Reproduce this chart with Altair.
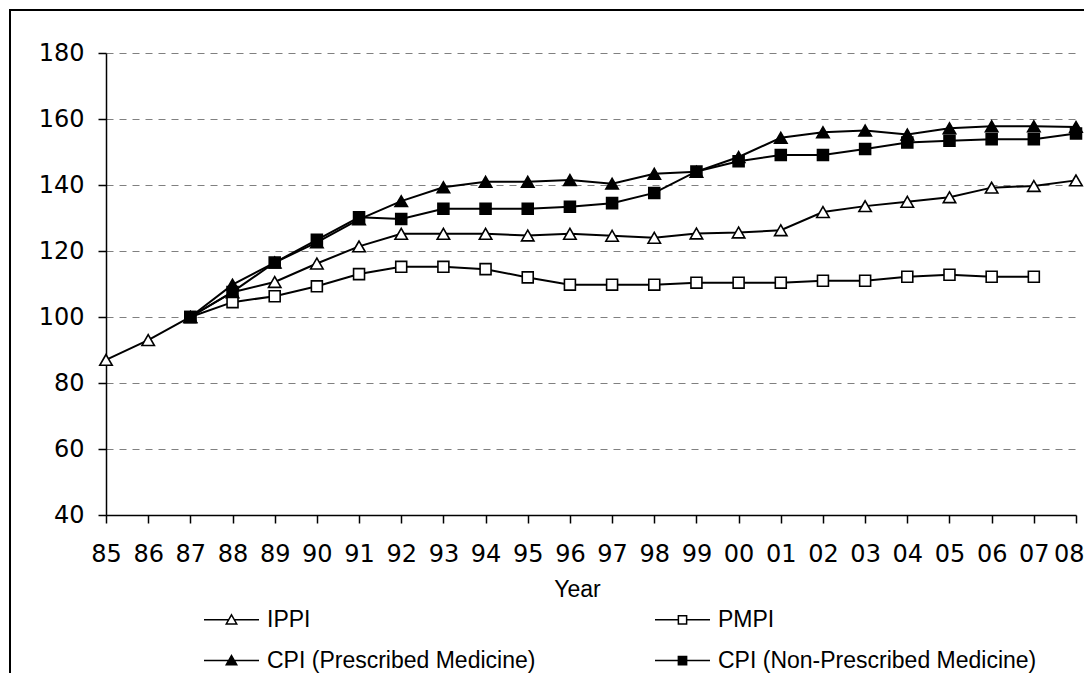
import altair as alt
import pandas as pd

years = ["85", "86", "87", "88", "89", "90", "91", "92", "93", "94", "95", "96",
         "97", "98", "99", "00", "01", "02", "03", "04", "05", "06", "07", "08"]

series = ["IPPI", "PMPI", "CPI (Prescribed Medicine)", "CPI (Non-Prescribed Medicine)"]

ippi = [87.0, 93.0, 100.0, 107.5, 110.6, 116.2, 121.4, 125.2, 125.2, 125.2, 124.7, 125.2,
        124.6, 124.0, 125.3, 125.6, 126.3, 131.8, 133.6, 134.9, 136.3, 139.2, 139.7, 141.4]
pmpi = [None, None, 100.0, 104.5, 106.3, 109.3, 113.0, 115.2, 115.2, 114.5, 112.0, 109.8,
        109.8, 109.8, 110.4, 110.4, 110.4, 111.0, 111.0, 112.2, 112.8, 112.2, 112.2, None]
cpi_p = [None, None, 100.0, 109.8, 116.5, 122.6, 129.6, 135.1, 139.3, 141.0, 141.0, 141.5,
         140.4, 143.4, 144.0, 148.5, 154.3, 156.0, 156.5, 155.3, 157.2, 157.8, 157.8, 157.6]
cpi_np = [None, None, 100.0, 107.6, 116.5, 123.4, 130.2, 129.7, 132.8, 132.8, 132.8, 133.4,
          134.5, 137.6, 144.1, 147.2, 149.1, 149.1, 150.9, 152.9, 153.4, 153.9, 153.9, 155.6]

shapes = ["triangle-up", "square", "triangle-up", "square"]
fills = ["white", "white", "black", "black"]
sizes = [155, 120, 155, 120]
legend_paths = [
    "M-1,0H-0.1M0.1,0H1M0,-0.18L0.19,0.15L-0.19,0.15Z",
    "M-1,0H-0.15M0.15,0H1M-0.15,-0.15H0.15V0.15H-0.15Z",
    "M-1,0H-0.1M0.1,0H1M0,-0.18L0.19,0.15L-0.19,0.15Z",
    "M-1,0H-0.15M0.15,0H1M-0.15,-0.15H0.15V0.15H-0.15Z",
]

rows = []
for name, vals in zip(series, [ippi, pmpi, cpi_p, cpi_np]):
    for i, (yr, v) in enumerate(zip(years, vals)):
        if v is not None:
            rows.append({"Year": yr, "Index": v, "Series": name, "idx": i})
df = pd.DataFrame(rows)

# keep the last tick label ("08") inside the page edge
last_label = "datum.value == '08'"

x_enc = alt.X(
    "Year:N",
    scale=alt.Scale(type="point", domain=years, padding=0),
    axis=alt.Axis(
        title="Year", labelAngle=0, labelFont="DejaVu Sans", labelFontSize=24,
        labelColor="black", labelPadding=19, tickSize=8, tickColor="black",
        tickWidth=1.5, domainColor="black", domainWidth=1.5,
        labelAlign={"condition": {"test": last_label, "value": "right"}, "value": "center"},
        labelOffset={"condition": {"test": last_label, "value": 8}, "value": 0},
        titleFont="Liberation Sans", titleFontSize=23, titleFontWeight="normal",
        titleColor="black", titlePadding=12, titleX=471,
    ),
)
y_enc = alt.Y(
    "Index:Q",
    scale=alt.Scale(domain=[40, 180], nice=False, zero=False),
    axis=alt.Axis(
        title=None, values=[40, 60, 80, 100, 120, 140, 160, 180],
        labelFont="DejaVu Sans", labelFontSize=24, labelColor="black",
        labelPadding=14, tickSize=8, tickColor="black", tickWidth=1.5,
        domainColor="black", domainWidth=1.5, grid=True, gridColor="#808080",
        gridDash=[7, 6], gridWidth=1.2,
    ),
)

base = alt.Chart(df)

lines = base.mark_line(color="black", strokeWidth=2).encode(
    x=x_enc, y=y_enc, detail="Series:N", order=alt.Order("idx:Q")
)

point_layers = []
for name, shp, fl, sz in zip(series, shapes, fills, sizes):
    point_layers.append(
        base.transform_filter(alt.datum.Series == name)
        .mark_point(shape=shp, filled=True, fill=fl, stroke="black",
                    strokeWidth=1.6, size=sz, opacity=1)
        .encode(x=x_enc, y=y_enc)
    )

def make_legend():
    return alt.Legend(
        title=None, orient="none", direction="horizontal", legendX=97, legendY=538,
        columns=2, columnPadding=116, rowPadding=-22, padding=0,
        labelFont="Liberation Sans", labelFontSize=23, labelColor="black",
        labelOffset=7, symbolSize=3025, symbolStrokeColor="black",
        symbolStrokeWidth=1.5, labelLimit=600,
    )

legend_layer = (
    base.transform_filter("false")
    .mark_point(filled=True, stroke="black", strokeWidth=1.5, opacity=1)
    .encode(
        x=x_enc,
        y=y_enc,
        shape=alt.Shape("Series:N", scale=alt.Scale(domain=series, range=legend_paths),
                        legend=make_legend()),
        fill=alt.Fill("Series:N", scale=alt.Scale(domain=series, range=fills),
                      legend=make_legend()),
        stroke=alt.Stroke("Series:N", scale=alt.Scale(domain=series, range=["black"] * 4),
                          legend=make_legend()),
    )
)

frame = alt.Chart(pd.DataFrame({"k": [0]})).mark_rect(
    filled=False, stroke="black", strokeWidth=2
).encode(x=alt.value(-96), x2=alt.value(1300), y=alt.value(-43), y2=alt.value(900))

chart = (
    alt.layer(lines, *point_layers, legend_layer, frame)
    .properties(
        width=970, height=462,
        autosize=alt.AutoSizeParams(type="none"),
        padding={"left": 98, "top": 45, "right": 8, "bottom": 158},
        background="white",
    )
    .configure_view(stroke=None)
)

chart.save("out.html", embed_options={"renderer": "svg", "actions": False})
